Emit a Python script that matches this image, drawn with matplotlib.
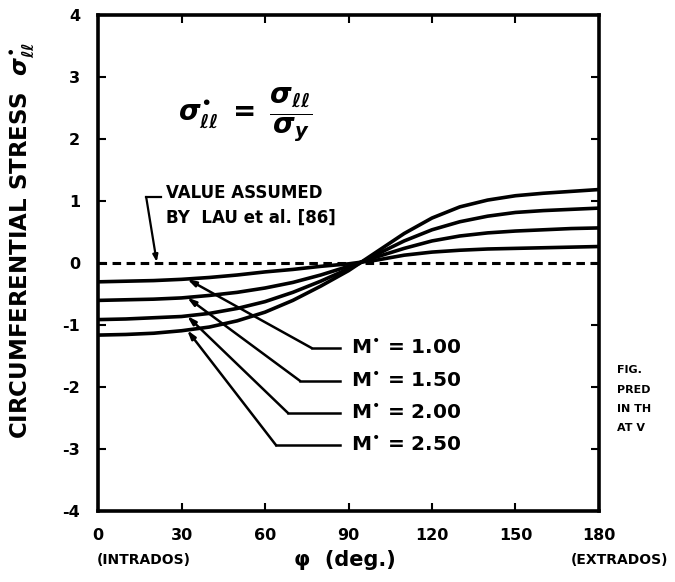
import numpy as np
import matplotlib
matplotlib.use("Agg")
import matplotlib.pyplot as plt

plt.rcParams["font.family"] = "DejaVu Sans"
plt.rcParams["font.weight"] = "bold"
plt.rcParams["axes.unicode_minus"] = False
plt.rcParams["mathtext.fontset"] = "dejavusans"

# ── data ───────────────────────────────────────────────────────────────
phi = [0, 10, 20, 30, 40, 50, 60, 70, 80, 90, 100, 110, 120, 130, 140, 150, 160, 170, 180]

m_labels = ["1.00", "1.50", "2.00", "2.50"]
stress_m100 = [-0.30, -0.29, -0.28, -0.26, -0.23, -0.19, -0.14, -0.10, -0.05, -0.01,
               0.05, 0.13, 0.18, 0.21, 0.23, 0.24, 0.25, 0.26, 0.27]
stress_m150 = [-0.60, -0.59, -0.58, -0.56, -0.52, -0.47, -0.40, -0.31, -0.19, -0.05,
               0.10, 0.24, 0.36, 0.44, 0.49, 0.52, 0.54, 0.56, 0.57]
stress_m200 = [-0.91, -0.90, -0.88, -0.86, -0.81, -0.73, -0.62, -0.47, -0.29, -0.09,
               0.14, 0.36, 0.54, 0.67, 0.76, 0.82, 0.85, 0.87, 0.89]
stress_m250 = [-1.16, -1.15, -1.13, -1.09, -1.03, -0.93, -0.79, -0.60, -0.37, -0.12,
               0.18, 0.48, 0.73, 0.91, 1.02, 1.09, 1.13, 1.16, 1.19]
series = [stress_m100, stress_m150, stress_m200, stress_m250]

lau_value = 0.0                      # value assumed by Lau et al.
x_ticks = [0, 30, 60, 90, 120, 150, 180]
y_ticks = [-4, -3, -2, -1, 0, 1, 2, 3, 4]

# ── figure ─────────────────────────────────────────────────────────────
fig = plt.figure(figsize=(6.75, 5.82), dpi=100)
ax = fig.add_axes([0.1452, 0.122, 0.7422, 0.8514])

for s in series:
    ax.plot(phi, s, color="black", lw=2.6, solid_capstyle="butt", zorder=3)

ax.plot([phi[0], phi[-1]], [lau_value, lau_value], color="black", lw=2.2,
        dashes=(2.8, 1.8), zorder=2)

ax.set_xlim(0, 180)
ax.set_ylim(-4, 4)
ax.set_xticks(x_ticks)
ax.set_yticks(y_ticks)
ax.set_xticklabels([str(v) for v in x_ticks], fontsize=11.5, fontweight="bold")
ax.set_yticklabels([str(v) for v in y_ticks], fontsize=11.5, fontweight="bold")
ax.tick_params(direction="in", length=6, width=1.5, top=True, right=True,
               labeltop=False, labelright=False)
ax.tick_params(axis="x", pad=12)
ax.tick_params(axis="y", pad=13)
for sp in ax.spines.values():
    sp.set_linewidth(2.6)

dot = "$^{\u2022}$"      # the scan prints the star as a raised dot

# -- leader lines to the M* labels
lab_y   = [-1.37, -1.90, -2.42, -2.94]
kink_x  = [76.8, 72.6, 68.3, 64.0]
start_x = 32
for s, lab, ly, kx in zip(series, m_labels, lab_y, kink_x):
    sy = np.interp(start_x, phi, s)
    ax.plot([kx, 86.9], [ly, ly], color="black", lw=1.8)
    ax.annotate("", xy=(start_x, sy), xytext=(kx, ly),
                arrowprops=dict(arrowstyle="-|>,head_length=0.5,head_width=0.15",
                                color="black", lw=1.8, shrinkA=0, shrinkB=0))
    ax.text(91.0, ly, "M" + dot + " = " + lab, fontsize=14.5, fontweight="bold",
            va="center", ha="left")

# -- "value assumed" callout
ax.plot([22.8, 17.3], [1.07, 1.07], color="black", lw=1.6)
ax.annotate("", xy=(21.1, 0.02), xytext=(17.3, 1.07),
            arrowprops=dict(arrowstyle="-|>,head_length=0.4,head_width=0.15",
                            color="black", lw=1.6, shrinkA=0, shrinkB=0))
ax.text(24.6, 1.13, "VALUE ASSUMED", fontsize=12, fontweight="bold",
        va="center", ha="left")
ax.text(24.6, 0.74, "BY  LAU et al. [86]", fontsize=12, fontweight="bold",
        va="center", ha="left")

# -- definition
ax.text(53, 2.4, "$\\sigma^{\u2022}_{\\ell\\ell}\\;=\\;\\dfrac{\\sigma_{\\ell\\ell}}{\\sigma_{y}}$",
        fontsize=20, ha="center", va="center")

# -- axis titles
fig.text(22 / 675, 1 - 240 / 582,
         "CIRCUMFERENTIAL STRESS  $\\sigma^{\u2022}_{\\ell\\ell}$",
         rotation=90, fontsize=16.5, fontweight="bold", ha="center", va="center")
fig.text(345 / 675, 1 - 560 / 582, "φ  (deg.)", fontsize=15, fontweight="bold",
         ha="center", va="center")
fig.text(97 / 675, 1 - 560 / 582, "(INTRADOS)", fontsize=10, fontweight="bold",
         ha="left", va="center")
fig.text(668 / 675, 1 - 560 / 582, "(EXTRADOS)", fontsize=10, fontweight="bold",
         ha="right", va="center")

# -- clipped caption at the right edge of the scan
for txt, py in zip(["FIG.", "PRED", "IN TH", "AT V"], [370, 390, 409, 428]):
    fig.text(617 / 675, 1 - py / 582, txt, fontsize=8, fontweight="bold",
             ha="left", va="center")

fig.savefig("out.png", dpi=100)
